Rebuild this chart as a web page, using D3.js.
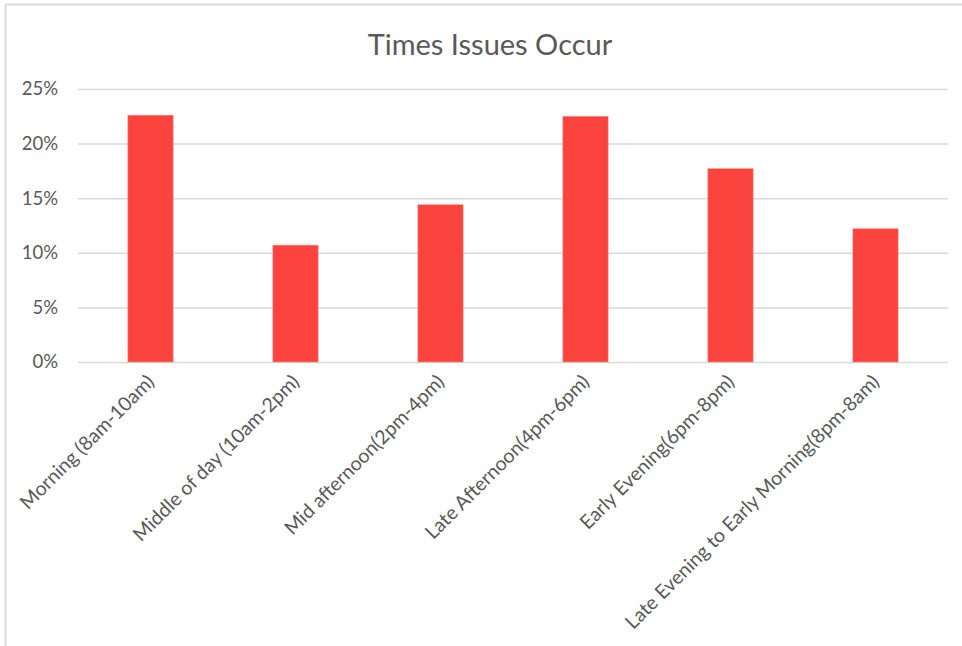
<!DOCTYPE html>
<html>
<head>
<meta charset="utf-8">
<script src="https://cdn.jsdelivr.net/npm/d3@7"></script>
<style>
  html, body { margin: 0; padding: 0; background: #fff; }
  svg { display: block; }
  text { font-family: Lato, "Open Sans", sans-serif; }
</style>
</head>
<body>
<svg id="chart" width="962" height="646"></svg>
<script>
const title = "Times Issues Occur";
const categories = [
  "Morning (8am-10am)",
  "Middle of day (10am-2pm)",
  "Mid afternoon(2pm-4pm)",
  "Late Afternoon(4pm-6pm)",
  "Early Evening(6pm-8pm)",
  "Late Evening to Early Morning(8pm-8am)"
];
const values = [0.226, 0.107, 0.144, 0.225, 0.177, 0.122];
const yTicks = [0, 0.05, 0.10, 0.15, 0.20, 0.25];

const svg = d3.select("#chart");
const W = 962, H = 646;
const margin = { left: 78, right: 14, top: 89, bottom: 284 };
const plotW = W - margin.left - margin.right;
const plotH = H - margin.top - margin.bottom;

// frame (top and left lines)
svg.append("line").attr("x1", 5.5).attr("x2", W).attr("y1", 4.5).attr("y2", 4.5)
  .attr("stroke", "#d9d9d9").attr("stroke-width", 2);
svg.append("line").attr("x1", 5.5).attr("x2", 5.5).attr("y1", 4.5).attr("y2", H)
  .attr("stroke", "#d9d9d9").attr("stroke-width", 2);

const g = svg.append("g").attr("transform", `translate(${margin.left},${margin.top})`);

const x = d3.scaleBand().domain(categories).range([0, plotW]).paddingInner(0.688).paddingOuter(0.344);
const y = d3.scaleLinear().domain([0, 0.25]).range([plotH, 0]);

// gridlines
const yAxis = d3.axisLeft(y).tickValues(yTicks).tickFormat(d3.format(".0%"))
  .tickSize(-plotW).tickPadding(20);
const ya = g.append("g").call(yAxis);
ya.select(".domain").remove();
ya.selectAll(".tick line").attr("stroke", "#d9d9d9").attr("stroke-width", 1.5);
ya.selectAll(".tick text").attr("fill", "#595959").style("font-size", "18.5px")
  .style("font-family", "Lato, 'Open Sans', sans-serif");

// bars
g.selectAll("rect.bar").data(values).join("rect")
  .attr("class", "bar")
  .attr("x", (d, i) => x(categories[i]))
  .attr("width", x.bandwidth())
  .attr("y", d => y(d))
  .attr("height", d => y(0) - y(d))
  .attr("fill", "#f9433c")
  .attr("stroke", "#fb8a85").attr("stroke-width", 0.6);

// x axis labels
const xa = g.append("g").attr("transform", `translate(0,${plotH})`)
  .call(d3.axisBottom(x).tickSize(0).tickPadding(0));
xa.select(".domain").remove();
xa.selectAll(".tick text")
  .attr("fill", "#595959").style("font-size", "19.5px")
  .style("font-family", "Lato, 'Open Sans', sans-serif")
  .attr("text-anchor", "end")
  .attr("dy", "0")
  .attr("y", 0)
  .attr("transform", "translate(5,21) rotate(-45)");

// title
svg.append("text").attr("x", 490).attr("y", 55)
  .attr("text-anchor", "middle").attr("fill", "#595959")
  .style("font-size", "29px").text(title);
</script>
</body>
</html>
